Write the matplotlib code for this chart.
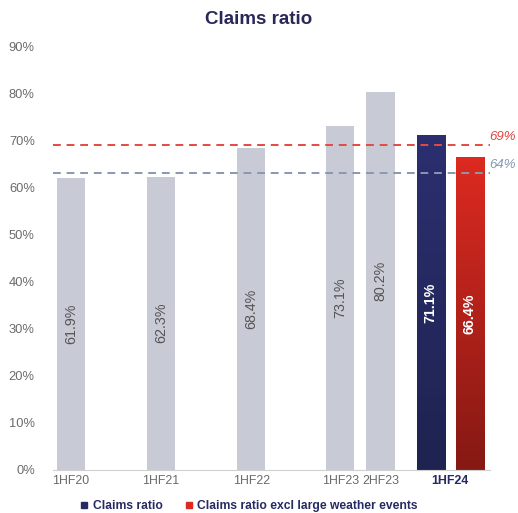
import numpy as np
import matplotlib.pyplot as plt
from matplotlib.colors import LinearSegmentedColormap
from matplotlib.lines import Line2D

plt.rcParams['font.family'] = ['Liberation Sans', 'DejaVu Sans']

periods = ['1HF20', '1HF21', '1HF22', '1HF23', '2HF23']
values = [61.9, 62.3, 68.4, 73.1, 80.2]
latest_label = '1HF24'
latest_ratio = 71.1
latest_excl = 66.4
ref_excl = 69.0      # red dashed line
ref_ratio = 63.1     # grey-blue dashed line
ref_excl_text = '69%'
ref_ratio_text = '64%'

NAVY = '#262a63'
GREY = '#c8cad5'
TXT = '#6b6b6b'

fig = plt.figure(figsize=(5.18, 5.13), dpi=100)
ax = fig.add_axes([0.102, 0.084, 0.844, 0.826])

x = [0, 2.25, 4.5, 6.72, 7.72]
x_blue, x_red = 8.97, 9.95
w = 0.7

ax.bar(x, values, width=w, color=GREY, zorder=2)
for xi, v in zip(x, values):
    ax.text(xi, v / 2, f'{v}%', rotation=90, ha='center', va='center',
            fontsize=10.3, color='#555555', zorder=4)

# gradient bars for the latest half
def grad_bar(xc, h, top, bottom):
    cmap = LinearSegmentedColormap.from_list('g', [bottom, top])
    grad = np.linspace(0, 1, 100).reshape(-1, 1)
    ax.imshow(grad, cmap=cmap, aspect='auto', origin='lower',
              extent=(xc - w / 2, xc + w / 2, 0, h), zorder=2)

grad_bar(x_blue, latest_ratio, '#2b2f70', '#1f2350')
grad_bar(x_red, latest_excl, '#dc2a20', '#861914')
ax.text(x_blue, latest_ratio / 2, f'{latest_ratio}%', rotation=90, ha='center',
        va='center', fontsize=10.3, color='white', fontweight='bold', zorder=4)
ax.text(x_red, latest_excl / 2, f'{latest_excl}%', rotation=90, ha='center',
        va='center', fontsize=10.3, color='white', fontweight='bold', zorder=4)

ax.axhline(ref_excl, color='#e34a42', ls=(0, (4, 3)), lw=1.4, zorder=3)
ax.axhline(ref_ratio, color='#8a97b0', ls=(0, (4, 3)), lw=1.4, zorder=3)
ax.text(11.1, ref_excl + 0.4, ref_excl_text, color='#e0443c', style='italic',
        fontsize=9.5, va='bottom', ha='right', clip_on=False)
ax.text(11.1, ref_ratio + 0.4, ref_ratio_text, color='#8a97b0', style='italic',
        fontsize=9.5, va='bottom', ha='right', clip_on=False)

ax.set_xlim(-0.45, 10.45)
ax.set_ylim(0, 90)
ax.set_yticks(range(0, 91, 10))
ax.set_yticklabels([f'{t}%' for t in range(0, 91, 10)], color=TXT, fontsize=9.3)
ax.set_xticks(x + [(x_blue + x_red) / 2])
ax.set_xticklabels(periods + [latest_label], color=TXT, fontsize=8.9)
ax.get_xticklabels()[-1].set_fontweight('bold')
ax.get_xticklabels()[-1].set_color(NAVY)
ax.tick_params(axis='x', length=0, pad=4)
ax.tick_params(axis='y', length=0, pad=13)
for s in ['top', 'right', 'left']:
    ax.spines[s].set_visible(False)
ax.spines['bottom'].set_color('#d0d0d0')

fig.text(0.5, 0.962, 'Claims ratio', ha='center', va='center', fontsize=13.5,
         fontweight='bold', color='#2a2858')

handles = [Line2D([], [], marker='s', ls='', color=NAVY, markersize=4.5),
           Line2D([], [], marker='s', ls='', color='#dc2a20', markersize=4.5)]
leg = fig.legend(handles, ['Claims ratio', 'Claims ratio excl large weather events'],
                 loc='center', bbox_to_anchor=(0.48, 0.013), ncol=2, frameon=False,
                 handletextpad=0.3, columnspacing=1.8, handlelength=0.8,
                 prop={'weight': 'bold', 'size': 8.7})
for t in leg.get_texts():
    t.set_color(NAVY)

fig.savefig('out.png', dpi=100)
